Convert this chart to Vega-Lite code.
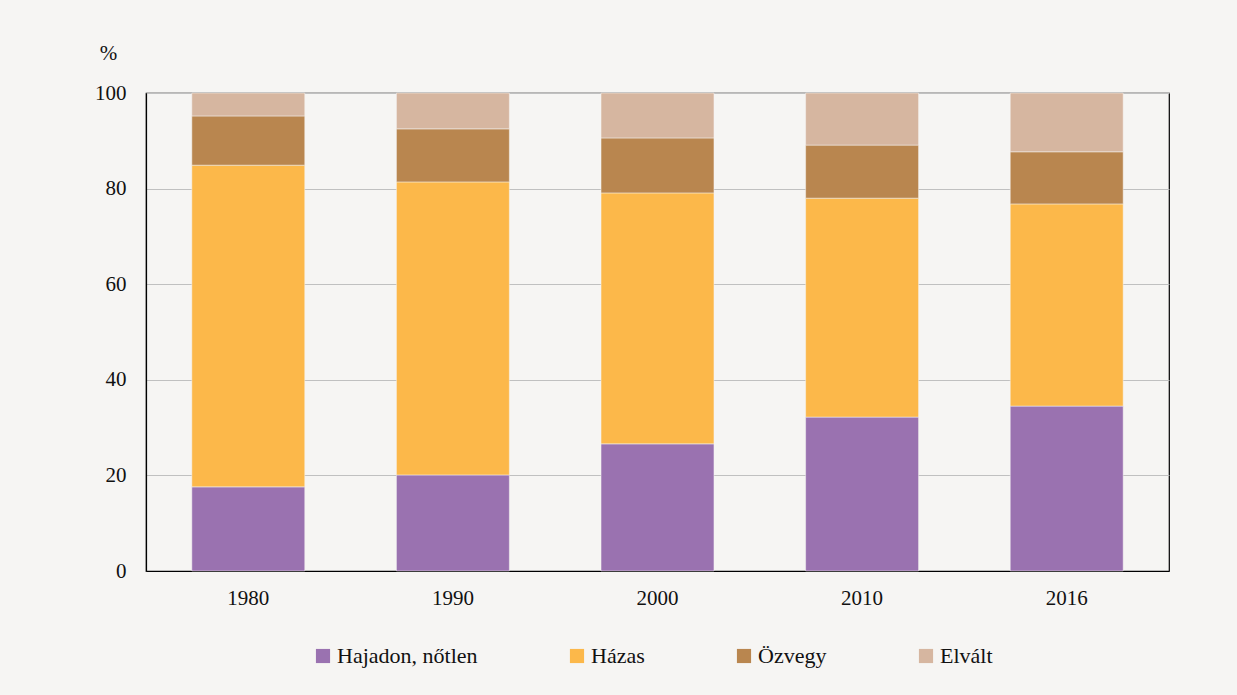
{
  "$schema": "https://vega.github.io/schema/vega-lite/v6.json",
  "width": 1023,
  "height": 478,
  "autosize": {"type": "none"},
  "padding": {"left": 146, "top": 93, "right": 68, "bottom": 124},
  "background": "#f6f5f3",
  "data": {
    "values": [
      {"ev": "1980", "kat": "Hajadon, nőtlen", "ord": 1, "v": 17.6},
      {"ev": "1980", "kat": "Házas", "ord": 2, "v": 67.3},
      {"ev": "1980", "kat": "Özvegy", "ord": 3, "v": 10.3},
      {"ev": "1980", "kat": "Elvált", "ord": 4, "v": 4.8},
      {"ev": "1990", "kat": "Hajadon, nőtlen", "ord": 1, "v": 20.1},
      {"ev": "1990", "kat": "Házas", "ord": 2, "v": 61.3},
      {"ev": "1990", "kat": "Özvegy", "ord": 3, "v": 11.1},
      {"ev": "1990", "kat": "Elvált", "ord": 4, "v": 7.5},
      {"ev": "2000", "kat": "Hajadon, nőtlen", "ord": 1, "v": 26.6},
      {"ev": "2000", "kat": "Házas", "ord": 2, "v": 52.5},
      {"ev": "2000", "kat": "Özvegy", "ord": 3, "v": 11.5},
      {"ev": "2000", "kat": "Elvált", "ord": 4, "v": 9.4},
      {"ev": "2010", "kat": "Hajadon, nőtlen", "ord": 1, "v": 32.2},
      {"ev": "2010", "kat": "Házas", "ord": 2, "v": 45.8},
      {"ev": "2010", "kat": "Özvegy", "ord": 3, "v": 11.1},
      {"ev": "2010", "kat": "Elvált", "ord": 4, "v": 10.9},
      {"ev": "2016", "kat": "Hajadon, nőtlen", "ord": 1, "v": 34.5},
      {"ev": "2016", "kat": "Házas", "ord": 2, "v": 42.3},
      {"ev": "2016", "kat": "Özvegy", "ord": 3, "v": 10.9},
      {"ev": "2016", "kat": "Elvált", "ord": 4, "v": 12.3}
    ]
  },
  "mark": {"type": "bar", "stroke": "#f6f5f3", "strokeWidth": 0.5},
  "encoding": {
    "x": {
      "field": "ev",
      "type": "nominal",
      "scale": {"paddingInner": 0.448, "paddingOuter": 0.224},
      "axis": {
        "title": null,
        "labelAngle": 0,
        "ticks": false,
        "labelPadding": 16,
        "labelFontSize": 21,
        "labelFont": "Liberation Serif",
        "labelColor": "#111",
        "domainColor": "#000",
        "domainWidth": 1.2
      }
    },
    "y": {
      "field": "v",
      "type": "quantitative",
      "stack": "zero",
      "scale": {"domain": [0, 100], "nice": false},
      "axis": {
        "title": "%",
        "titleAngle": 0,
        "titleFont": "Liberation Serif",
        "titleFontWeight": "normal",
        "titleFontSize": 21,
        "titleColor": "#111",
        "titleAnchor": "end",
        "titleAlign": "center",
        "titleX": -38,
        "titleY": -30,
        "values": [0, 20, 40, 60, 80, 100],
        "ticks": false,
        "labelPadding": 20,
        "labelFontSize": 21,
        "labelFont": "Liberation Serif",
        "labelColor": "#111",
        "domainColor": "#000",
        "domainWidth": 1.2,
        "grid": true,
        "gridColor": "#c0c0c0",
        "gridWidth": 1
      }
    },
    "color": {
      "field": "kat",
      "type": "nominal",
      "scale": {
        "domain": ["Hajadon, nőtlen", "Házas", "Özvegy", "Elvált"],
        "range": ["#9a72b0", "#fcb84a", "#b9864f", "#d6b6a0"]
      },
      "legend": {
        "title": null,
        "orient": "none",
        "direction": "horizontal",
        "columns": 4,
        "legendX": 166,
        "legendY": 552,
        "symbolType": "square",
        "symbolSize": 200,
        "symbolStrokeWidth": 0,
        "symbolOffset": 0,
        "labelOffset": 3,
        "labelFont": "Liberation Serif",
        "labelFontSize": 22,
        "labelColor": "#111",
        "columnPadding": 88,
        "labelLimit": 300
      }
    },
    "order": {"field": "ord", "type": "quantitative"}
  },
  "config": {
    "font": "Liberation Serif",
    "view": {"stroke": "#000", "strokeWidth": 1.2},
    "legend": {"labelFont": "Liberation Serif", "labelFontSize": 22},
    "axis": {"gridColor": "#c0c0c0"}
  }
}
